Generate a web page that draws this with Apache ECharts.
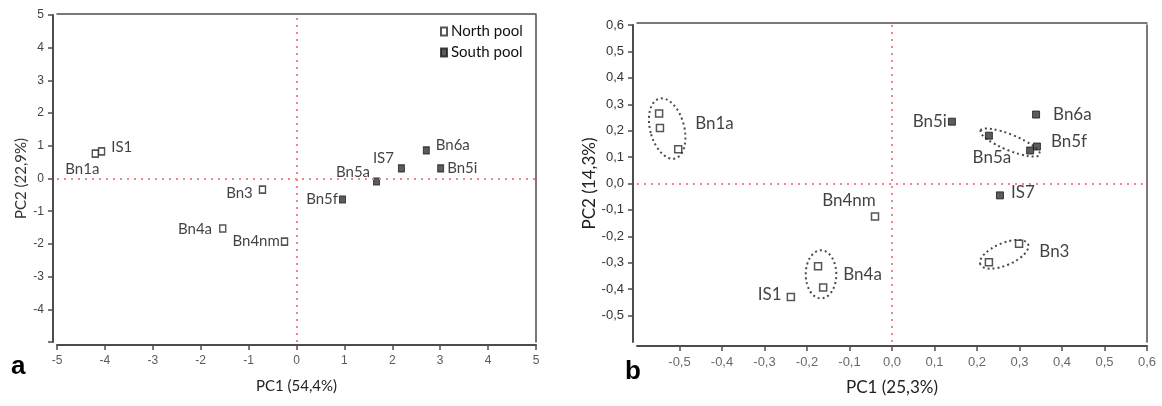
<!DOCTYPE html>
<html>
<head>
<meta charset="utf-8">
<script src="https://cdn.jsdelivr.net/npm/echarts@6/dist/echarts.min.js"></script>
<style>
  html, body { margin: 0; padding: 0; background: #fff; }
  #chart { width: 1162px; height: 406px; }
</style>
</head>
<body>
<div id="chart"></div>
<script>
// ---- Panel a: PCA scores (PC1 54,4 %, PC2 22,9 %) ----
const aSamples = ['IS1', 'Bn1a', 'Bn3', 'Bn4a', 'Bn4nm', 'Bn5f', 'Bn5a', 'IS7', 'Bn6a', 'Bn5i'];
const aPC1     = [-4.07, -4.20, -0.71, -1.54, -0.25, 0.96, 1.67, 2.19, 2.71, 3.01];
const aPC2     = [0.83, 0.76, -0.34, -1.53, -1.93, -0.64, -0.09, 0.31, 0.86, 0.31];
const aPool    = ['N', 'N', 'N', 'N', 'N', 'S', 'S', 'S', 'S', 'S'];
const aTicks   = [-5, -4, -3, -2, -1, 0, 1, 2, 3, 4, 5];
const aTicksY  = [-4, -3, -2, -1, 0, 1, 2, 3, 4, 5];

// ---- Panel b: PCA scores (PC1 25,3 %, PC2 14,3 %) ----
const bSamples = ['Bn1a', 'Bn1a', 'Bn1a', 'Bn5i', 'Bn6a', 'Bn5a', 'Bn5a', 'Bn5f', 'IS7',
                  'Bn4nm', 'Bn4a', 'Bn4a', 'IS1', 'Bn3', 'Bn3'];
const bPC1     = [-0.548, -0.546, -0.503, 0.141, 0.339, 0.228, 0.325, 0.341, 0.254,
                  -0.040, -0.174, -0.162, -0.238, 0.299, 0.228];
const bPC2     = [0.265, 0.210, 0.130, 0.234, 0.261, 0.181, 0.125, 0.140, -0.045,
                  -0.125, -0.313, -0.394, -0.430, -0.228, -0.298];
const bPool    = ['N', 'N', 'N', 'S', 'S', 'S', 'S', 'S', 'S', 'N', 'N', 'N', 'N', 'N', 'N'];
const bTicks   = [-0.5, -0.4, -0.3, -0.2, -0.1, 0, 0.1, 0.2, 0.3, 0.4, 0.5, 0.6];

// replicate groups circled in panel b (centre, half-width in PC1 units, half-height in PC2 units, tilt in degrees)
const grpCenterPC1 = [-0.529, 0.278, -0.167, 0.264];
const grpCenterPC2 = [0.208, 0.155, -0.344, -0.268];
const grpHalfPC1   = [0.040, 0.075, 0.036, 0.061];
const grpHalfPC2   = [0.117, 0.030, 0.091, 0.042];
const grpTilt      = [15, -22, 0, 23];

const POOL_NAMES = { N: 'North pool', S: 'South pool' };

// label placement: [position, distance, offset]
const aLabelPlace = {
  IS1:   ['right', 6, [0, -4]],
  Bn1a:  ['bottom', 4, [-13, 0]],
  Bn3:   ['left', 6, [0, 4]],
  Bn4a:  ['left', 7, [0, 1]],
  Bn4nm: ['left', 1, [0, 0]],
  Bn5f:  ['left', 1, [0, 0]],
  Bn5a:  ['left', 3, [0, -9]],
  IS7:   ['left', 4, [0, -10]],
  Bn6a:  ['right', 6, [0, -5]],
  Bn5i:  ['right', 3, [0, 0]]
};
const bLabelPlace = {
  1:  ['right', 31, [0, -5]],
  3:  ['left', 1, [0, 0]],
  4:  ['right', 13, [0, 0]],
  5:  ['bottom', 9, [3, 0]],
  7:  ['right', 10, [0, -5]],
  8:  ['right', 7, [0, -3]],
  9:  ['top', 3, [-26, 0]],
  10: ['right', 21, [0, 8]],
  12: ['left', 5, [0, -3]],
  13: ['right', 16, [0, 8]]
};

const LABEL_FONT = 'Lato, "Open Sans", sans-serif';
const TICK_FONT = '"Liberation Sans", Arial, sans-serif';
const refLine = { color: '#f3828d', width: 2, type: [2, 5] };

function buildPoints(names, xs, ys, pools, pool, placeFor, fontSize) {
  const out = [];
  names.forEach((n, i) => {
    if (pools[i] !== pool) return;
    const p = placeFor(n, i);
    const item = { name: n, value: [xs[i], ys[i]] };
    if (p) {
      item.label = {
        show: true, formatter: n, position: p[0], distance: p[1], offset: p[2],
        fontFamily: LABEL_FONT, fontSize: fontSize, color: '#111'
      };
    } else {
      item.label = { show: false };
    }
    out.push(item);
  });
  return out;
}

const commaFmt = (digits) => (v) => (digits ? v.toFixed(digits) : String(v)).replace('.', ',');

function mainX(gridIndex, min, max, interval, ticks, digits, fontSize, color, offset) {
  return {
    type: 'value', gridIndex, min, max, interval, position: 'bottom', offset,
    axisLine: { show: true, onZero: false, lineStyle: { color: '#4d4d4d', width: 2 } },
    axisTick: { show: true, length: 5, customValues: ticks, lineStyle: { color: '#4d4d4d', width: 1.5 } },
    axisLabel: { customValues: ticks, formatter: commaFmt(digits), fontFamily: TICK_FONT, fontSize, color, margin: 10 },
    splitLine: { show: false }
  };
}
function mainY(gridIndex, min, max, interval, ticks, labelTicks, digits, fontSize, color, offset) {
  return {
    type: 'value', gridIndex, min, max, interval, position: 'left', offset,
    axisLine: { show: true, onZero: false, lineStyle: { color: '#4d4d4d', width: 2 } },
    axisTick: { show: true, length: 5, customValues: ticks, lineStyle: { color: '#4d4d4d', width: 1.5 } },
    axisLabel: { customValues: labelTicks, formatter: commaFmt(digits), fontFamily: TICK_FONT, fontSize, color, margin: 9 },
    splitLine: { show: false }
  };
}
function frameAxis(gridIndex, min, max, position, offset) {
  return {
    type: 'value', gridIndex, min, max, position, offset,
    axisLine: { show: true, onZero: false, lineStyle: { color: '#4d4d4d', width: 1.5 } },
    axisTick: { show: false }, axisLabel: { show: false }, splitLine: { show: false }
  };
}

const aPlace = (n) => aLabelPlace[n];
const bPlace = (n, i) => bLabelPlace[i];

const openSquare = { color: '#ffffff', borderColor: '#2b2b2b', borderWidth: 1.5 };
const fullSquare = { color: '#333333', borderColor: '#1a1a1a', borderWidth: 1 };

const chart = echarts.init(document.getElementById('chart'), null, { renderer: 'canvas' });

chart.setOption({
  animation: false,
  backgroundColor: '#ffffff',
  title: [
    { text: 'a', left: 11, top: 354, padding: 0,
      textStyle: { fontFamily: TICK_FONT, fontSize: 26, fontWeight: 'bold', color: '#000' } },
    { text: 'b', left: 625, top: 359, padding: 0,
      textStyle: { fontFamily: TICK_FONT, fontSize: 26, fontWeight: 'bold', color: '#000' } }
  ],
  legend: {
    data: [POOL_NAMES.N, POOL_NAMES.S],
    orient: 'vertical', left: 440, top: 24, padding: 0,
    icon: 'rect', itemWidth: 6, itemHeight: 8, itemGap: 6,
    textStyle: { fontFamily: LABEL_FONT, fontSize: 15, color: '#111', padding: [0, 0, 0, -1] },
    selectedMode: false
  },
  grid: [
    { left: 57, right: 626, top: 15, bottom: 64 },
    { left: 637, right: 15, top: 25, bottom: 64 }
  ],
  xAxis: [
    Object.assign(mainX(0, -5, 5, 1, aTicks, 0, 12, '#5a5a5a', 3), {
      name: 'PC1 (54,4%)', nameLocation: 'middle', nameGap: 34,
      nameTextStyle: { fontFamily: LABEL_FONT, fontSize: 15, color: '#222' }
    }),
    frameAxis(0, -5, 5, 'top', 1),
    Object.assign(mainX(1, -0.6, 0.6, 0.1, bTicks, 1, 13, '#6a6a6a', 4), {
      name: 'PC1 (25,3%)', nameLocation: 'middle', nameGap: 33,
      nameTextStyle: { fontFamily: LABEL_FONT, fontSize: 17, color: '#222' }
    }),
    frameAxis(1, -0.6, 0.6, 'top', 2)
  ],
  yAxis: [
    Object.assign(mainY(0, -5, 5, 1, aTicks, aTicksY, 0, 12, '#444', 4), {
      name: 'PC2 (22,9%)', nameLocation: 'middle', nameGap: 24,
      nameTextStyle: { fontFamily: LABEL_FONT, fontSize: 15, color: '#333' }
    }),
    frameAxis(0, -5, 5, 'right', 0),
    Object.assign(mainY(1, -0.6, 0.6, 0.1, bTicks, bTicks, 1, 13, '#333', 4), {
      name: 'PC2 (14,3%)', nameLocation: 'middle', nameGap: 33,
      nameTextStyle: { fontFamily: LABEL_FONT, fontSize: 17, color: '#222' }
    }),
    frameAxis(1, -0.6, 0.6, 'right', 0)
  ],
  series: [
    {
      name: POOL_NAMES.N, type: 'scatter', xAxisIndex: 0, yAxisIndex: 0,
      symbol: 'rect', symbolSize: [6, 7], itemStyle: openSquare,
      data: buildPoints(aSamples, aPC1, aPC2, aPool, 'N', aPlace, 15),
      markLine: {
        silent: true, symbol: 'none', label: { show: false }, lineStyle: refLine,
        data: [{ xAxis: 0 }, { yAxis: 0 }]
      },
      z: 3
    },
    {
      name: POOL_NAMES.S, type: 'scatter', xAxisIndex: 0, yAxisIndex: 0,
      symbol: 'rect', symbolSize: [6, 7], itemStyle: fullSquare,
      data: buildPoints(aSamples, aPC1, aPC2, aPool, 'S', aPlace, 15),
      z: 3
    },
    {
      name: 'b-groups', type: 'custom', xAxisIndex: 2, yAxisIndex: 2, silent: true,
      data: grpCenterPC1.map((x, i) => [x, grpCenterPC2[i], grpHalfPC1[i], grpHalfPC2[i], grpTilt[i]]),
      renderItem: (params, api) => {
        const c = api.coord([api.value(0), api.value(1)]);
        const s = api.size([api.value(2), api.value(3)]);
        return {
          type: 'ellipse',
          x: c[0], y: c[1],
          rotation: api.value(4) * Math.PI / 180,
          shape: { cx: 0, cy: 0, rx: s[0], ry: s[1] },
          style: { fill: 'none', stroke: '#4a4a4a', lineWidth: 2, lineDash: [2, 3] }
        };
      },
      z: 2
    },
    {
      name: 'North b', type: 'scatter', xAxisIndex: 2, yAxisIndex: 2,
      symbol: 'rect', symbolSize: 7, itemStyle: openSquare,
      data: buildPoints(bSamples, bPC1, bPC2, bPool, 'N', bPlace, 17),
      markLine: {
        silent: true, symbol: 'none', label: { show: false }, lineStyle: refLine,
        data: [{ xAxis: 0 }, { yAxis: 0 }]
      },
      z: 3
    },
    {
      name: 'South b', type: 'scatter', xAxisIndex: 2, yAxisIndex: 2,
      symbol: 'rect', symbolSize: 7, itemStyle: fullSquare,
      data: buildPoints(bSamples, bPC1, bPC2, bPool, 'S', bPlace, 17),
      z: 3
    }
  ]
});
</script>
</body>
</html>
